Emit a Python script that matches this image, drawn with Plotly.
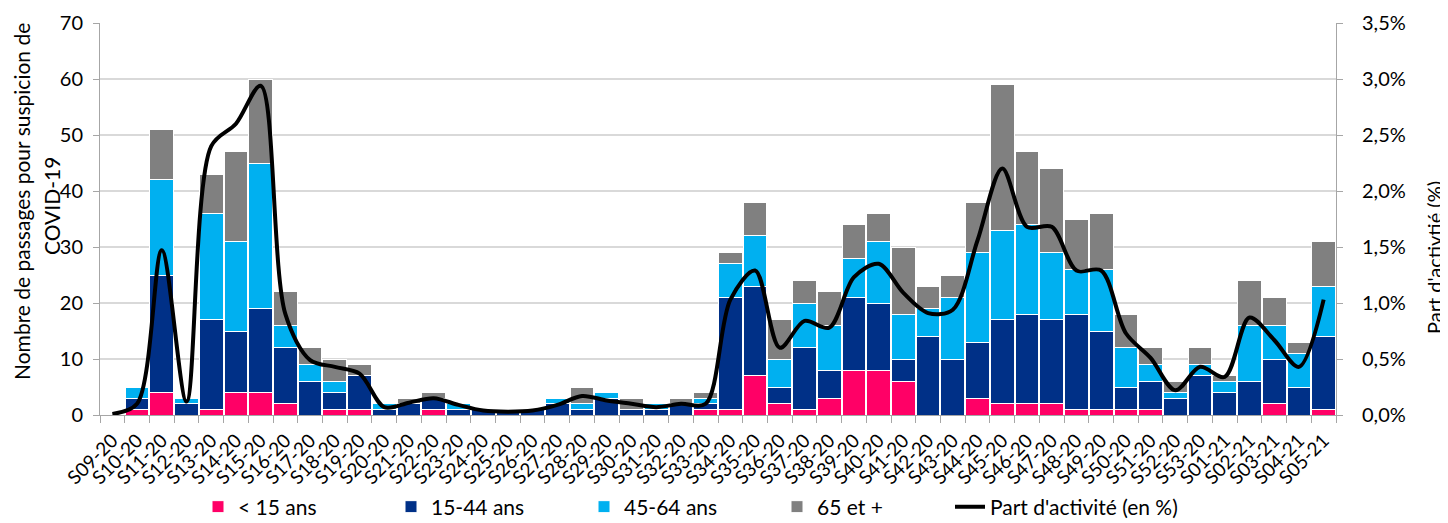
import plotly.graph_objects as go

weeks = ["S09-20", "S10-20", "S11-20", "S12-20", "S13-20", "S14-20", "S15-20", "S16-20",
         "S17-20", "S18-20", "S19-20", "S20-20", "S21-20", "S22-20", "S23-20", "S24-20",
         "S25-20", "S26-20", "S27-20", "S28-20", "S29-20", "S30-20", "S31-20", "S32-20",
         "S33-20", "S34-20", "S35-20", "S36-20", "S37-20", "S38-20", "S39-20", "S40-20",
         "S41-20", "S42-20", "S43-20", "S44-20", "S45-20", "S46-20", "S47-20", "S48-20",
         "S49-20", "S50-20", "S51-20", "S52-20", "S53-20", "S01-21", "S02-21", "S03-21",
         "S04-21", "S05-21"]

moins_15 = [0, 1, 4, 0, 1, 4, 4, 2, 0, 1, 1, 0, 0, 1, 0, 0, 0, 0, 0, 0, 0, 0, 0, 0,
            1, 1, 7, 2, 1, 3, 8, 8, 6, 0, 0, 3, 2, 2, 2, 1, 1, 1, 1, 0, 0, 0, 0, 2, 0, 1]
age_15_44 = [0, 2, 21, 2, 16, 11, 15, 10, 6, 3, 6, 1, 2, 2, 1, 1, 1, 1, 2, 1, 3, 1, 1, 2,
             1, 20, 16, 3, 11, 5, 13, 12, 4, 14, 10, 10, 15, 16, 15, 17, 14, 4, 5, 3, 7, 4, 6, 8, 5, 13]
age_45_64 = [0, 2, 17, 1, 19, 16, 26, 4, 3, 2, 0, 1, 0, 0, 1, 0, 0, 0, 1, 1, 1, 0, 1, 0,
             1, 6, 9, 5, 8, 8, 7, 11, 8, 5, 11, 16, 16, 16, 12, 8, 11, 7, 3, 1, 2, 2, 10, 6, 6, 9]
age_65_plus = [0, 0, 9, 0, 7, 16, 15, 6, 3, 4, 2, 0, 1, 1, 0, 0, 0, 0, 0, 3, 0, 2, 0, 1,
               1, 2, 6, 7, 4, 6, 6, 5, 12, 4, 4, 9, 26, 13, 15, 9, 10, 6, 3, 2, 3, 1, 8, 5, 2, 8]
part_activite = [0.01, 0.10, 1.47, 0.12, 2.40, 2.60, 2.94, 0.90, 0.49, 0.43, 0.37, 0.07,
                 0.11, 0.15, 0.09, 0.04, 0.03, 0.04, 0.09, 0.17, 0.13, 0.10, 0.07, 0.10,
                 0.10, 1.03, 1.29, 0.60, 0.84, 0.78, 1.23, 1.35, 1.09, 0.91, 0.94, 1.56,
                 2.20, 1.68, 1.68, 1.29, 1.29, 0.73, 0.51, 0.22, 0.43, 0.34, 0.87, 0.67,
                 0.43, 1.03]

FONT = "Lato"
grid = "#d9d9d9"
axis_col = "#a6a6a6"

# the page body has an 8px margin: figure is 1440x515 so that it fills the 1448x523 window
PW = 1236.0
PH = 392.0

fig = go.Figure()
series = [
    ("< 15 ans", moins_15, "#FF0066"),
    ("15-44 ans", age_15_44, "#003087"),
    ("45-64 ans", age_45_64, "#00B0F0"),
    ("65 et +", age_65_plus, "#808080"),
]
for name, vals, col in series:
    fig.add_trace(go.Bar(x=weeks, y=vals, name=name, legend="legend",
                         marker=dict(color=col, line=dict(color="white", width=1))))

fig.add_trace(go.Scatter(x=weeks, y=part_activite, name="Part d'activité (en %)", yaxis="y2",
                         mode="lines", legend="legend2",
                         line=dict(color="black", width=4, shape="spline", smoothing=0.9)))

fig.update_layout(
    width=1440, height=515, autosize=False,
    margin=dict(l=92, r=112, t=15, b=108, autoexpand=False),
    barmode="stack", bargap=0.04,
    plot_bgcolor="white", paper_bgcolor="white",
    separators=", ",
    font=dict(family=FONT, size=20, color="black"),
    showlegend=True,
    legend=dict(orientation="h", x=(198 - 100) / PW, xanchor="left", y=(415 - 507) / PH,
                yanchor="middle", font=dict(size=21), entrywidth=148, traceorder="normal",
                tracegroupgap=0),
    legend2=dict(orientation="h", x=(950 - 100) / PW, xanchor="left", y=(415 - 507) / PH,
                 yanchor="middle", font=dict(size=21)),
    xaxis=dict(type="category", tickmode="linear", tick0=0, dtick=1, tickangle=-45,
               tickfont=dict(size=19), showline=True,
               linecolor=axis_col, ticks="outside", tickson="boundaries", ticklen=7,
               tickcolor=axis_col, showgrid=False, automargin=False, ticklabelstandoff=6),
    yaxis=dict(range=[0, 70], dtick=10, showgrid=True, gridcolor=grid, gridwidth=1.5,
               showline=True, linecolor=axis_col, ticks="outside", ticklen=6, tickcolor=axis_col,
               tickfont=dict(size=20), zeroline=False, automargin=False, ticklabelstandoff=6),
    yaxis2=dict(range=[0, 3.5], dtick=0.5, tickformat=".1f", ticksuffix="%", overlaying="y",
                side="right", showgrid=False, showline=True, linecolor=axis_col, ticks="outside",
                ticklen=6, tickcolor=axis_col, tickfont=dict(size=20), zeroline=False,
                automargin=False, ticklabelstandoff=15),
)

fig.add_annotation(text="Nombre de passages pour suspicion de", xref="paper", yref="paper",
                   x=(21 - 100) / PW, y=(415 - 202) / PH, textangle=-90, showarrow=False,
                   xanchor="center", yanchor="middle", font=dict(size=21, family=FONT))
fig.add_annotation(text="COVID-19", xref="paper", yref="paper",
                   x=(51 - 100) / PW, y=(415 - 206) / PH, textangle=-90, showarrow=False,
                   xanchor="center", yanchor="middle", font=dict(size=21, family=FONT))
fig.add_annotation(text="Part d'activtié (%)", xref="paper", yref="paper",
                   x=(1434 - 100) / PW, y=(415 - 257) / PH, textangle=-90, showarrow=False,
                   xanchor="center", yanchor="middle", font=dict(size=20, family=FONT))

fig.write_html("out.html")
